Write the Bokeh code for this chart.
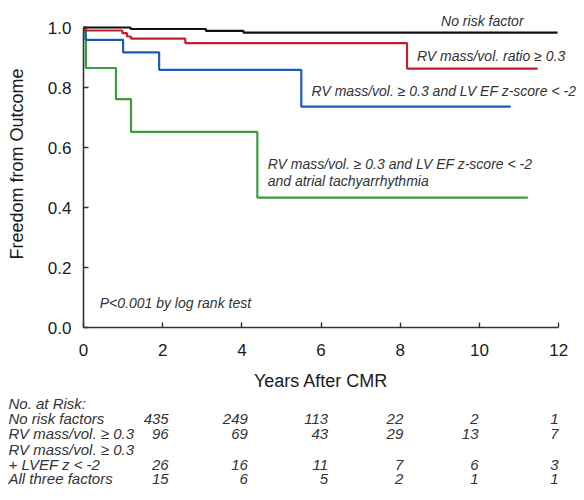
from bokeh.plotting import figure
from bokeh.models import Range1d, FixedTicker, PrintfTickFormatter, Label, ColumnDataSource
from bokeh.layouts import column
from bokeh.core.properties import value
from bokeh.embed import file_html
from bokeh.resources import INLINE

# ---- data ----
black_t = [0, 1.19, 3.09, 4.04, 11.97]
black_s = [1.0, 0.995, 0.989, 0.983, 0.983]
red_t = [0, 0.03, 0.98, 1.1, 1.2, 2.57, 8.17, 11.47]
red_s = [1.0, 0.990, 0.981, 0.970, 0.963, 0.948, 0.863, 0.863]
blue_t = [0, 0.05, 1.0, 1.91, 5.5, 10.79]
blue_s = [1.0, 0.959, 0.917, 0.859, 0.736, 0.736]
green_t = [0, 0.06, 0.82, 1.2, 4.39, 11.22]
green_s = [1.0, 0.865, 0.761, 0.652, 0.433, 0.433]

x_ticks = [0, 2, 4, 6, 8, 10, 12]
y_ticks = [0.0, 0.2, 0.4, 0.6, 0.8, 1.0]

table_cols_x = [2, 4, 6, 8, 10, 12]
risk_no_factor = [435, 249, 113, 22, 2, 1]
risk_rv = [96, 69, 43, 29, 13, 7]
risk_rv_lvef = [26, 16, 11, 7, 6, 3]
risk_all_three = [15, 6, 5, 2, 1, 1]
row_labels = ["No. at Risk:", "No risk factors", "RV mass/vol. \u2265 0.3",
              "RV mass/vol. \u2265 0.3", "+ LVEF z < -2", "All three factors"]

FONT = "Liberation Sans"
TXT = "#333333"
PXY = 39.6   # px per year
LEFT = 83    # left border (px)
W = 584

p = figure(width=W, height=367, output_backend="svg", toolbar_location=None,
           x_range=Range1d(0, (W - LEFT) / PXY), y_range=Range1d(0, 327 / 300),
           min_border_left=LEFT, min_border_right=0, min_border_top=0, min_border_bottom=40)
p.frame_align = False
p.outline_line_color = None
p.xgrid.visible = False
p.ygrid.visible = False

for t_, s_, c in [(green_t, green_s, "#3b9b3f"), (blue_t, blue_s, "#1c5bb5"),
                  (red_t, red_s, "#bf1f2e"), (black_t, black_s, "#111111")]:
    p.step(t_, s_, mode="after", line_color=c, line_width=2.2)

for ax in (p.xaxis[0], p.yaxis[0]):
    ax.axis_line_color = "#333333"
    ax.axis_line_width = 1.6
    ax.major_tick_line_color = "#333333"
    ax.major_tick_line_width = 1.4
    ax.major_tick_in = 5
    ax.major_tick_out = 0
    ax.minor_tick_line_color = None
    ax.major_label_text_font = FONT
    ax.major_label_text_font_size = "17px"
    ax.major_label_text_color = "#1a1a1a"
    ax.axis_label_text_font = FONT
    ax.axis_label_text_font_size = "18px"
    ax.axis_label_text_font_style = "normal"
    ax.axis_label_text_color = "#1a1a1a"

p.xaxis.ticker = FixedTicker(ticks=x_ticks)
p.yaxis.ticker = FixedTicker(ticks=y_ticks)
p.xaxis.formatter = PrintfTickFormatter(format="%d")
p.yaxis.formatter = PrintfTickFormatter(format="%.1f")
p.xaxis.bounds = (0, 12)
p.yaxis.bounds = (0, 1)
p.yaxis.axis_label = "Freedom from Outcome"
p.xaxis.major_label_standoff = 16
p.yaxis.major_label_standoff = 12
p.yaxis.axis_label_standoff = 18

labels = [
    ("No risk factor", 9.03, 1.022),
    ("RV mass/vol. ratio \u2265 0.3", 8.42, 0.906),
    ("RV mass/vol. \u2265 0.3 and LV EF z-score < -2", 5.76, 0.787),
    ("RV mass/vol. \u2265 0.3 and LV EF z-score < -2", 4.65, 0.546),
    ("and atrial tachyarrhythmia", 4.65, 0.489),
    ("P<0.001 by log rank test", 0.41, 0.083),
]
for txt, lx, ly in labels:
    p.add_layout(Label(x=lx, y=ly, text=txt, text_font=FONT, text_font_size="14px",
                       text_font_style="italic", text_color=TXT, text_baseline="middle",
                       text_align="left"))

# ---- axis title + number at risk table ----
H2 = 133
t = figure(width=W, height=H2, output_backend="svg", toolbar_location=None,
           x_range=Range1d(-LEFT / PXY, (W - LEFT) / PXY), y_range=Range1d(H2, 0),
           x_axis_type=None, y_axis_type=None,
           min_border_left=0, min_border_right=0, min_border_top=0, min_border_bottom=0)
t.frame_align = False
t.outline_line_color = None
t.xgrid.visible = False
t.ygrid.visible = False

t.add_layout(Label(x=6, y=13, text="Years After CMR", text_font=FONT, text_font_size="18px",
                   text_color="#1a1a1a", text_align="center", text_baseline="middle"))

row_y = [36, 51, 66, 82, 97, 111]
t.text(x=[(8 - LEFT) / PXY] * len(row_labels), y=row_y, text=row_labels,
       text_font=value(FONT), text_font_size="15px", text_font_style="italic",
       text_color=TXT, text_baseline="middle", text_align="left")

col_offsets = [6, 6, 7, 3, -1, 0]
xs, ys, txts, offs = [], [], [], []
for series, ry in [(risk_no_factor, 51), (risk_rv, 66), (risk_rv_lvef, 97), (risk_all_three, 111)]:
    for cx, n, o in zip(table_cols_x, series, col_offsets):
        xs.append(cx)
        ys.append(ry)
        txts.append(str(n))
        offs.append(o)
src = ColumnDataSource(dict(x=xs, y=ys, text=txts, off=offs))
t.text(x="x", y="y", text="text", x_offset="off", source=src,
       text_font=value(FONT), text_font_size="15px", text_font_style="italic",
       text_color=TXT, text_baseline="middle", text_align="right")

layout = column(p, t)
open("out.html", "w").write(file_html(layout, INLINE))
